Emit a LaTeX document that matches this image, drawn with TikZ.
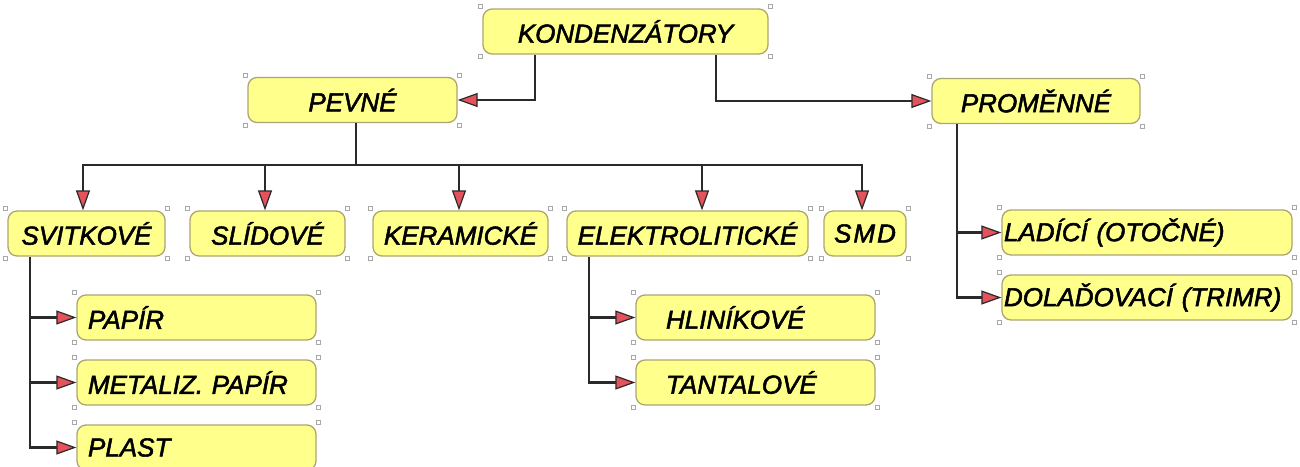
\documentclass[tikz,border=0pt]{standalone}
\usepackage{fontspec}
\setmainfont{Liberation Sans}
\newfontfamily\boxfont{Liberation Sans}[ItalicFeatures={FakeBold=2}]
\usetikzlibrary{arrows.meta}
\definecolor{boxfill}{HTML}{FFFF8C}
\definecolor{boxline}{HTML}{ADA570}
\definecolor{tipfill}{HTML}{E4525C}
\definecolor{wire}{HTML}{2A2A2A}
\definecolor{hnd}{HTML}{A8A8A8}
\tikzset{
  box/.style={draw=boxline, line width=1.3pt, fill=boxfill, rounded corners=9pt,
    minimum height=45pt, inner sep=0pt, font=\fontsize{26}{30}\selectfont\boxfont\itshape},
  lbox/.style={box, align=left, inner xsep=#1},
  wireline/.style={draw=wire, line width=2.8pt},
  conn/.style={wireline, -{Triangle[length=20pt,width=14pt,fill=tipfill,line width=1.2pt]}},
  handle/.style={draw=hnd, fill=white, line width=0.6pt, minimum size=4pt, inner sep=0pt}
}
\begin{document}
\begin{tikzpicture}[x=1pt,y=-1pt]
\useasboundingbox (0,0) rectangle (1300,466);
\fill[white] (0,0) rectangle (1300,466);

% boxes
\node[box, minimum width=285pt] (k) at (625.5,31.5) {KONDENZÁTORY};
\node[box, minimum width=209pt] (pev) at (352.5,100) {PEVNÉ};
\node[box, minimum width=208pt] (pro) at (1036,101) {PROMĚNNÉ};

\node[box, minimum width=157pt] (svi) at (86.5,233.5) {SVITKOVÉ};
\node[box, minimum width=155pt] (sli) at (267.5,233.5) {SLÍDOVÉ};
\node[box, minimum width=175pt] (ker) at (460.5,233.5) {KERAMICKÉ};
\node[box, minimum width=241pt] (ele) at (687.5,233.5) {ELEKTROLITICKÉ};
\node[box, minimum width=82pt] (smd) at (865,233.5) {S\hspace{2pt}M\hspace{2pt}D};

\node[lbox=11pt, text width=217pt] (pap) at (196.5,317.5) {PAPÍR};
\node[lbox=11pt, text width=217pt] (met) at (196.5,382.5) {METALIZ. PAPÍR};
\node[lbox=11pt, text width=217pt] (pla) at (196.5,447.5) {PLAST};

\node[lbox=30pt, text width=179pt] (hli) at (755.5,317.5) {HLINÍKOVÉ};
\node[lbox=30pt, text width=179pt] (tan) at (755.5,382.5) {TANTALOVÉ};

\node[lbox=2pt, text width=286pt] (lad) at (1147,232.5) {LADÍCÍ (OTOČNÉ)};
\node[lbox=2pt, text width=286pt] (dol) at (1147,297.5) {DOLAĎOVACÍ (TRIMR)};

% handles
\foreach \n in {k,pev,pro,svi,sli,ker,ele,smd,pap,met,pla,hli,tan,lad,dol}{
  \foreach \a/\dx/\dy in {north west/-2/-2, north east/2/-2, south west/-2/2, south east/2/2}{
    \node[handle] at ([shift={(\dx,\dy)}]\n.\a) {};
  }
}

% coordinates
\coordinate (kl) at (535,0);
\coordinate (kr) at (716,0);
\coordinate (bus) at (356,165);
\coordinate (a1) at (83,0);
\coordinate (a2) at (265,0);
\coordinate (a3) at (459,0);
\coordinate (a4) at (702,0);
\coordinate (a5) at (862,0);
\coordinate (sv) at (30,0);
\coordinate (el) at (589,0);
\coordinate (pr) at (957,0);

% top level
\draw[conn] (k.south -| kl) |- (pev.east);
\draw[conn] (k.south -| kr) |- (pro.west);

% pevne bus
\draw[wireline] (pev.south -| bus) -- (bus);
\draw[wireline, line cap=rect] (a1 |- bus) -- (a5 |- bus);
\draw[conn] (a1 |- bus) -- (a1 |- svi.north);
\draw[conn] (a2 |- bus) -- (a2 |- sli.north);
\draw[conn] (a3 |- bus) -- (a3 |- ker.north);
\draw[conn] (a4 |- bus) -- (a4 |- ele.north);
\draw[conn] (a5 |- bus) -- (a5 |- smd.north);

% svitkove
\draw[conn] (svi.south -| sv) |- (pla.west);
\draw[conn] (sv |- pap.west) -- (pap.west);
\draw[conn] (sv |- met.west) -- (met.west);

% elektroliticke
\draw[conn] (ele.south -| el) |- (tan.west);
\draw[conn] (el |- hli.west) -- (hli.west);

% promenne
\draw[conn] (pro.south -| pr) |- (dol.west);
\draw[conn] (pr |- lad.west) -- (lad.west);
\end{tikzpicture}
\end{document}
